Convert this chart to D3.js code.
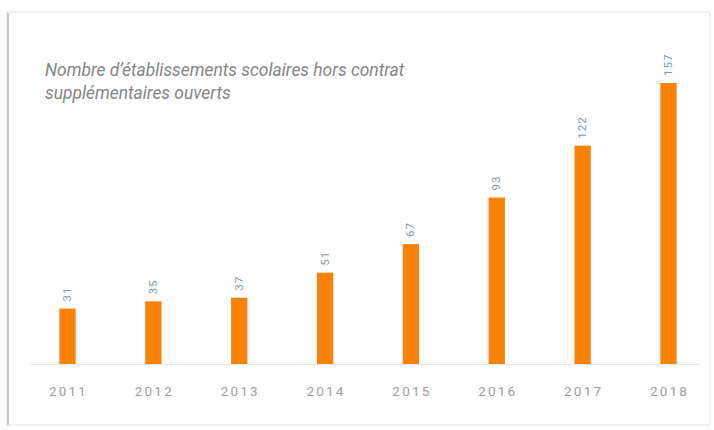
<!DOCTYPE html>
<html><head><meta charset="utf-8">
<script src="https://cdn.jsdelivr.net/npm/d3@7"></script>
<style>
html,body{margin:0;padding:0;background:#fff;}
svg{display:block;font-family:Roboto,"Noto Sans",sans-serif;}
</style></head>
<body>
<svg id="chart" width="714" height="430"></svg>
<script>
const years = ["2011","2012","2013","2014","2015","2016","2017","2018"];
const values = [31,35,37,51,67,93,122,157];
const titleLines = ["Nombre d’établissements scolaires hors contrat","supplémentaires ouverts"];

const svg = d3.select("#chart");

// card
svg.append("rect").attr("x",7).attr("y",12).attr("width",703).attr("height",413)
  .attr("fill","#fff").attr("stroke","#e2e2e2").attr("stroke-width",1);
svg.append("line").attr("x1",8).attr("x2",8).attr("y1",13).attr("y2",425)
  .attr("stroke","#c9c9c9").attr("stroke-width",2);

const x = d3.scaleBand().domain(years).range([25,711]).paddingInner(0.81).paddingOuter(0.4);
const y = d3.scaleLinear().domain([0,157]).range([364,83]);

// baseline
svg.append("line").attr("x1",30).attr("x2",700).attr("y1",364.5).attr("y2",364.5)
  .attr("stroke","#e6e6e6").attr("stroke-width",1);

// bars
svg.append("g").selectAll("rect").data(values).join("rect")
  .attr("x",(d,i)=>x(years[i]))
  .attr("width",x.bandwidth())
  .attr("y",d=>y(d))
  .attr("height",d=>y(0)-y(d))
  .attr("fill","#fb8208");

// value labels rotated
svg.append("g").selectAll("text").data(values).join("text")
  .attr("transform",(d,i)=>`translate(${x(years[i])+x.bandwidth()/2+3.5},${y(d)-7}) rotate(-90)`)
  .attr("font-size",11.5).attr("letter-spacing",1)
  .attr("fill","#7f97a8")
  .text(d=>d);

// x axis labels
const xAxis = d3.axisBottom(x).tickSize(0).tickPadding(0);
const gx = svg.append("g").attr("transform","translate(1,386)").call(xAxis);
gx.select(".domain").remove();
gx.selectAll("text").attr("font-size",13.5).attr("letter-spacing",2.2)
  .attr("fill","#a0a0a0").attr("font-family","Roboto,sans-serif");

// title
const t = svg.append("text").attr("x",45).attr("y",76)
  .attr("font-size",17.4).attr("font-style","italic").attr("fill","#858585");
titleLines.forEach((l,i)=>t.append("tspan").attr("x",45).attr("dy",i?22.5:0).text(l));
</script>
</body></html>
